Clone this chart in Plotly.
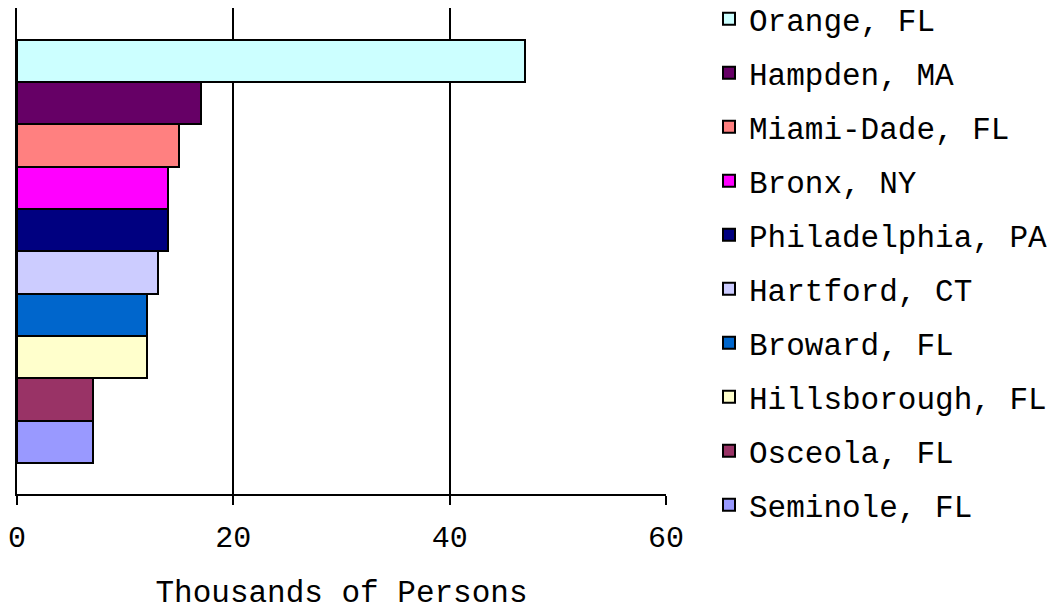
import plotly.graph_objects as go

counties = ["Orange, FL", "Hampden, MA", "Miami-Dade, FL", "Bronx, NY", "Philadelphia, PA",
            "Hartford, CT", "Broward, FL", "Hillsborough, FL", "Osceola, FL", "Seminole, FL"]
values = [47, 17, 15, 14, 14, 13, 12, 12, 7, 7]
colors = ["#CCFFFF", "#660066", "#FF8080", "#FF00FF", "#000080",
          "#CCCCFF", "#0066CC", "#FFFFCC", "#993366", "#9999FF"]
x_ticks = [0, 20, 40, 60]
x_title = "Thousands of Persons"

FONT = "Courier New, Liberation Mono, monospace"

fig = go.Figure()
for name, val, col in zip(counties, values, colors):
    fig.add_trace(go.Bar(
        x=[val], y=[name], name=name, orientation="h",
        marker=dict(color=col, line=dict(color="black", width=2)),
        legendgroup=name, hoverinfo="x+name",
    ))

fig.update_layout(
    width=1055, height=609,
    margin=dict(l=9, r=397, t=0, b=123, autoexpand=False),
    paper_bgcolor="white", plot_bgcolor="white",
    barmode="overlay", bargap=0,
    font=dict(family=FONT, size=30, color="black"),
    showlegend=True,
    legend=dict(
        xref="container", yref="paper",
        x=701 / 1055, y=1 + 16 / 486, xanchor="left", yanchor="top",
        traceorder="grouped", tracegroupgap=10.7, maxheight=640,
        font=dict(family=FONT, size=31, color="black"),
        bgcolor="rgba(0,0,0,0)",
    ),
)
fig.update_xaxes(
    range=[0, 60], tickvals=x_ticks, ticktext=[str(t) for t in x_ticks],
    showgrid=True, gridcolor="black", gridwidth=2,
    showline=True, linecolor="black", linewidth=2,
    ticks="outside", ticklen=9, tickwidth=2, tickcolor="black",
    zeroline=False, automargin=False,
    ticklabelstandoff=6, ticklabeloverflow="allow",
    tickfont=dict(family=FONT, size=30, color="black"),
    title=dict(text=x_title, font=dict(family=FONT, size=31, color="black"), standoff=25),
)
fig.update_yaxes(
    type="category", categoryorder="array", categoryarray=counties[::-1],
    range=[-1.23, 10.25], showticklabels=False, ticks="",
    showgrid=False, zeroline=False, automargin=False,
    showline=True, linecolor="black", linewidth=2,
)

fig.write_html("out.html")
